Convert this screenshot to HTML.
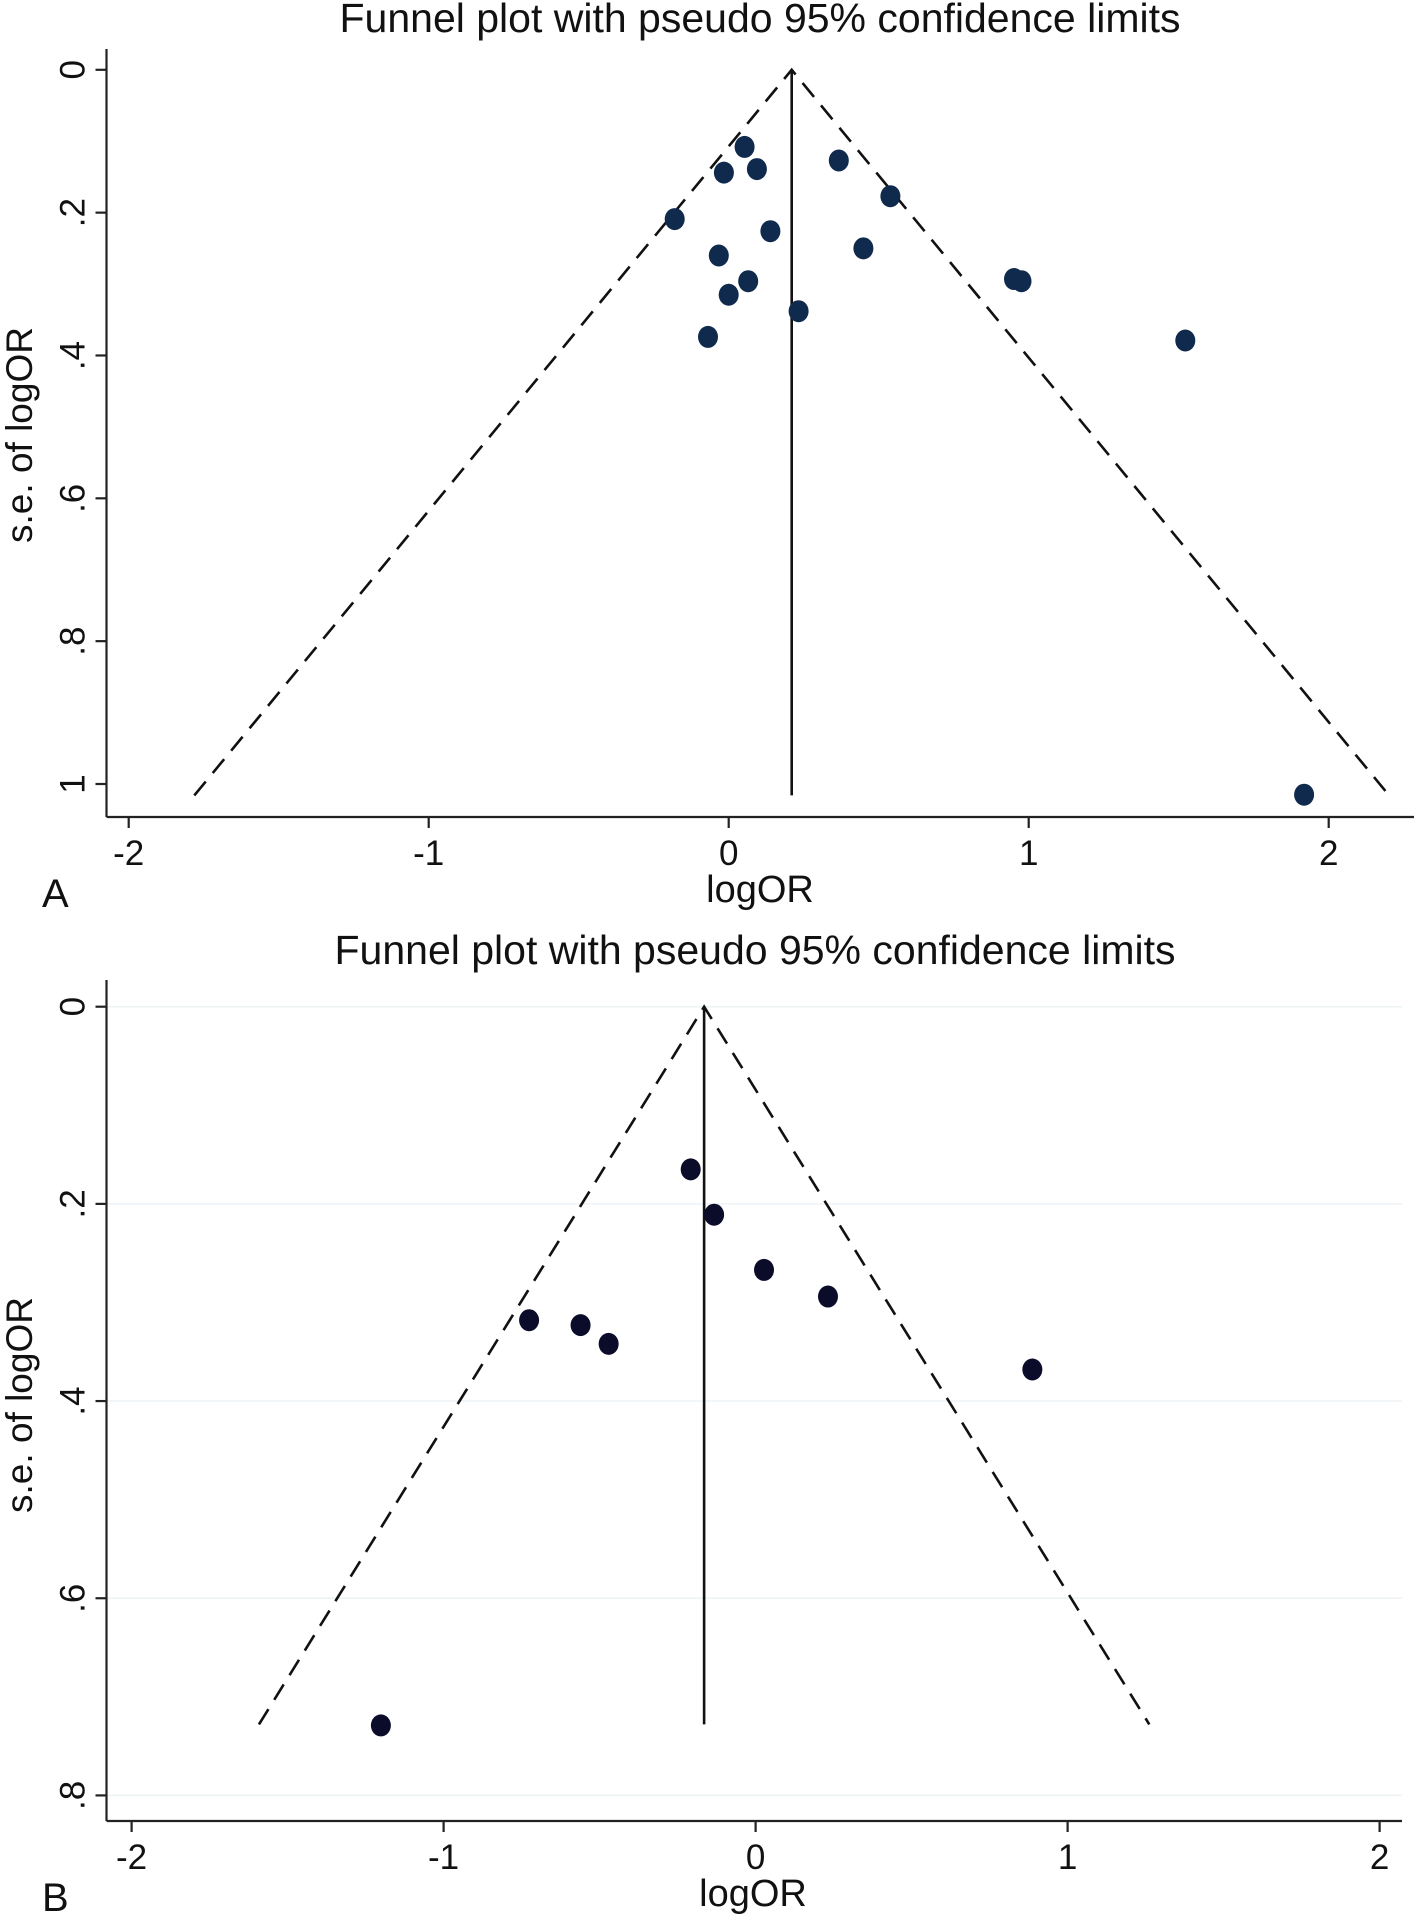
<!DOCTYPE html>
<html><head><meta charset="utf-8"><style>
html,body{margin:0;padding:0;background:#fff;}
svg{display:block;font-family:"Liberation Sans",sans-serif;}
</style></head><body>
<svg id="chart" width="1417" height="1924" viewBox="0 0 1417 1924" xmlns="http://www.w3.org/2000/svg"></svg>
<script>
const xTicks = [-2, -1, 0, 1, 2];
const xTickLabels = ["-2", "-1", "0", "1", "2"];
const yTicksA = [0, 0.2, 0.4, 0.6, 0.8, 1];
const yTickLabelsA = ["0", ".2", ".4", ".6", ".8", "1"];
const yTicksB = [0, 0.2, 0.4, 0.6, 0.8];
const yTickLabelsB = ["0", ".2", ".4", ".6", ".8"];
const pooledA = 0.21;
const maxSeA = 1.016;
const logOrA = [0.053,-0.016,0.094,0.367,0.539,-0.18,0.139,-0.033,0.449,0.065,0,0.233,-0.069,0.951,0.976,1.522,1.918];
const seA = [0.108,0.144,0.139,0.127,0.177,0.209,0.226,0.26,0.25,0.296,0.315,0.338,0.374,0.293,0.296,0.379,1.015];
const pooledB = -0.165;
const maxSeB = 0.728;
const logOrB = [-0.208,-0.133,0.027,0.232,-0.726,-0.561,-0.471,0.887,-1.201];
const seB = [0.165,0.211,0.267,0.294,0.318,0.323,0.342,0.368,0.729];

const svg = document.getElementById('chart');
const NS = 'http://www.w3.org/2000/svg';
function mk(tag, attrs, parent){
  const e = document.createElementNS(NS, tag);
  for (const k in attrs) e.setAttribute(k, attrs[k]);
  (parent||svg).appendChild(e);
  return e;
}
function panel(p){
  const g = mk('g', {});
  
  
  const X = v => p.x0 + v * p.xs;
  const Y = v => p.y0 + v * p.ys;
  if (p.grid) p.yTicks.forEach(t => {
    const l = mk('line', {x1:p.left, x2:p.right, y1:Y(t), y2:Y(t), stroke:'#eef3f6', 'stroke-width':1.5}, g);
    
    
  });
  const t = mk('text', {x:p.titleX, y:p.titleY, 'font-size':41, 'text-anchor':'middle', fill:'#111'}, g);
  t.textContent = 'Funnel plot with pseudo 95% confidence limits';
  
  
  const ya = mk('line', {x1:p.left, x2:p.left, y1:p.top, y2:p.bottom, stroke:'#222', 'stroke-width':2.2}, g);
  
  
  const xa = mk('line', {x1:p.left, x2:p.right, y1:p.bottom, y2:p.bottom, stroke:'#222', 'stroke-width':2.2}, g);
  
  
  p.yTicks.forEach((v, i) => {
    mk('line', {x1:p.left-11, x2:p.left, y1:Y(v), y2:Y(v), stroke:'#222', 'stroke-width':2.2}, g);
    const tx = mk('text', {x:0, y:0, 'font-size':35, 'text-anchor':'middle', fill:'#111', transform:`translate(${p.left-22},${Y(v)}) rotate(-90)`}, g);
    tx.textContent = p.yLabels[i];
    
    
  });
  xTicks.forEach((v, i) => {
    mk('line', {x1:X(v), x2:X(v), y1:p.bottom, y2:p.bottom+11, stroke:'#222', 'stroke-width':2.2}, g);
    const tx = mk('text', {x:X(v), y:p.bottom+48, 'font-size':35, 'text-anchor':'middle', fill:'#111'}, g);
    tx.textContent = xTickLabels[i];
    
    
  });
  const xt = mk('text', {x:p.xTitleX, y:p.bottom+85, 'font-size':38, 'text-anchor':'middle', fill:'#111'}, g);
  xt.textContent = 'logOR';
  
  
  const yt = mk('text', {x:0, y:0, 'font-size':37, 'text-anchor':'middle', fill:'#111', transform:`translate(32,${p.yTitleY}) rotate(-90)`}, g);
  yt.textContent = 's.e. of logOR';
  
  
  const pl = mk('text', {x:42, y:p.bottom+90, 'font-size':40, fill:'#111'}, g);
  pl.textContent = p.letter;
  
  
  const f = mk('polyline', {points:`${X(p.pooled-1.96*p.maxSe)},${Y(p.maxSe)} ${X(p.pooled)},${Y(0)} ${X(p.pooled+1.96*p.maxSe)},${Y(p.maxSe)}`, fill:'none', stroke:'#111', 'stroke-width':2.6, 'stroke-dasharray':'18,11'}, g);
  
  
  const v = mk('line', {x1:X(p.pooled), x2:X(p.pooled), y1:Y(0), y2:Y(p.maxSe), stroke:'#111', 'stroke-width':2.6}, g);
  
  
  p.xs_data.forEach((d, i) => {
    const c = mk('ellipse', {cx:X(d), cy:Y(p.se_data[i]), rx:10, ry:11, fill:p.dot}, g);
    
    
  });
}
panel({name:'panel-a', letter:'A', x0:728.7, xs:300, y0:69.8, ys:714.2, left:106.5, right:1414, top:49, bottom:817,
  yTicks:yTicksA, yLabels:yTickLabelsA, pooled:pooledA, maxSe:maxSeA, xs_data:logOrA, se_data:seA,
  titleX:760, titleY:32, xTitleX:760, yTitleY:435, dot:'#0f2a4c', grid:false});
panel({name:'panel-b', letter:'B', x0:755.6, xs:312, y0:1006.7, ys:985.9, left:106.5, right:1402, top:980, bottom:1821,
  yTicks:yTicksB, yLabels:yTickLabelsB, pooled:pooledB, maxSe:maxSeB, xs_data:logOrB, se_data:seB,
  titleX:755, titleY:964, xTitleX:753, yTitleY:1405, dot:'#0a0c2a', grid:true});
</script>
</body></html>
